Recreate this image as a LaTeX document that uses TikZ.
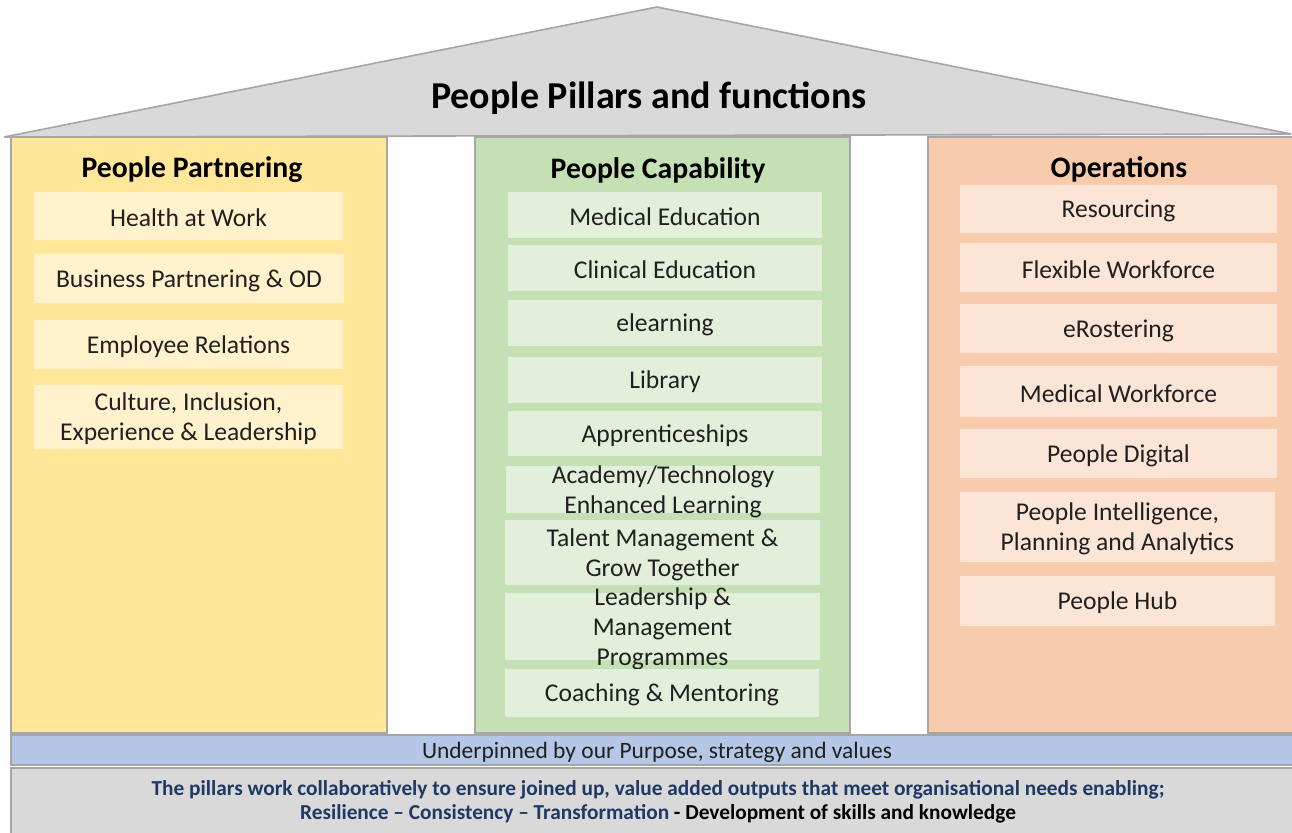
\documentclass[tikz,border=0pt]{standalone}
\usepackage{fontspec}
\setmainfont{Carlito}
\definecolor{roofgray}{HTML}{D9D9D9}
\definecolor{bordergray}{HTML}{A6A6A6}
\definecolor{yel}{HTML}{FFE699}
\definecolor{yellight}{HTML}{FFF2CC}
\definecolor{grn}{HTML}{C5E0B4}
\definecolor{grnlight}{HTML}{E2EFDA}
\definecolor{org}{HTML}{F8CBAD}
\definecolor{orglight}{HTML}{FBE5D6}
\definecolor{blu}{HTML}{B4C7E7}
\definecolor{darkblue}{HTML}{1F3864}
\definecolor{txt}{HTML}{202020}
\newcommand\mkbox[7]{%
  \pgfmathsetmacro\bw{(#5-#3)*0.75}%
  \pgfmathsetmacro\bh{(#6-#4)*0.75}%
  \node[#2, minimum width=\bw pt, minimum height=\bh pt] (#1) at ({(#3+#5)/2},{(#4+#6)/2}) {};%
  \node[boxtext] (#1t) at (#1) {#7};%
}
\begin{document}
\begin{tikzpicture}[x=0.75pt,y=-0.75pt,
  roof/.style={fill=roofgray, draw=bordergray, line width=1.2pt, line join=miter},
  pillar/.style={draw=bordergray, line width=1.5pt, inner sep=0pt, outer sep=0pt},
  ybox/.style={fill=yellight, inner sep=0pt},
  gbox/.style={fill=grnlight, inner sep=0pt},
  obox/.style={fill=orglight, inner sep=0pt},
  boxtext/.style={text=txt, align=center, font=\fontsize{19.2}{22.5}\selectfont, inner sep=0pt, yshift=-1.5pt},
  heading/.style={font=\fontsize{22.3}{26}\selectfont\bfseries, text=black, inner sep=0pt, yshift=-1.5pt},
  band/.style={draw=bordergray, line width=1pt, inner sep=0pt}]
\useasboundingbox (0,0) rectangle (1292,832);
\fill[white] (0,0) rectangle (1292,832);
% roof
\draw[roof] (4,137) -- (657,7) -- (1291,134) -- cycle;
\node[font=\fontsize{28.5}{32}\selectfont\bfseries, inner sep=0pt] (title) at (649,98.5) {People Pillars and functions};
% pillars
\mkbox{pl}{pillar,fill=yel}{11}{137}{387}{733}{}
\mkbox{pm}{pillar,fill=grn}{475}{137}{850}{733}{}
\mkbox{pr}{pillar,fill=org}{928}{137}{1294}{733}{}
\node[heading] (hl) at (192,168) {People Partnering};
\node[heading] (hm) at (658,168) {People Capability};
\node[heading] (hr) at (1119,167) {Operations};
% left boxes
\mkbox{l1}{ybox}{34}{192}{343}{240}{Health at Work}
\mkbox{l2}{ybox}{34}{254}{344}{303}{Business Partnering \& OD}
\mkbox{l3}{ybox}{34}{320}{343}{369}{Employee Relations}
\mkbox{l4}{ybox}{34}{385}{343}{449}{Culture, Inclusion,\\Experience \& Leadership}
% middle boxes
\mkbox{m1}{gbox}{508}{192}{822}{238}{Medical Education}
\mkbox{m2}{gbox}{508}{245}{822}{291}{Clinical Education}
\mkbox{m3}{gbox}{508}{300}{822}{346}{elearning}
\mkbox{m4}{gbox}{508}{357}{822}{403}{Library}
\mkbox{m5}{gbox}{508}{411}{822}{456}{Apprenticeships}
\mkbox{m6}{gbox}{506}{466}{820}{513}{Academy/Technology\\Enhanced Learning}
\mkbox{m7}{gbox}{505}{520}{820}{585}{Talent Management \&\\Grow Together}
\mkbox{m8}{gbox}{505}{593}{820}{660}{Leadership \&\\Management\\Programmes}
\mkbox{m9}{gbox}{505}{669}{819}{717}{Coaching \& Mentoring}
% right boxes
\mkbox{r1}{obox}{960}{185}{1277}{233}{Resourcing}
\mkbox{r2}{obox}{960}{243}{1277}{292}{Flexible Workforce}
\mkbox{r3}{obox}{960}{304}{1277}{353}{eRostering}
\mkbox{r4}{obox}{960}{366}{1277}{417}{Medical Workforce}
\mkbox{r5}{obox}{960}{429}{1277}{478}{People Digital}
\mkbox{r6}{obox}{960}{492}{1275}{562}{People Intelligence,\\Planning and Analytics}
\mkbox{r7}{obox}{960}{576}{1275}{626}{People Hub}
% bands
\mkbox{bb}{band,fill=blu}{11}{735}{1294}{765}{}
\node[text=txt, font=\fontsize{17.6}{20}\selectfont, inner sep=0pt] (bbt2) at (657,752) {Underpinned by our Purpose, strategy and values};
\mkbox{gb}{band,fill=roofgray}{11}{768}{1294}{834}{}
\node[font=\fontsize{16}{18}\selectfont\bfseries, text=darkblue, inner sep=0pt, align=center] (gbt2) at (658,802) {The pillars work collaboratively to ensure joined up, value added outputs that meet organisational needs enabling;\\Resilience -- Consistency -- Transformation \textcolor{black}{- Development of skills and knowledge}};
\end{tikzpicture}
\end{document}
